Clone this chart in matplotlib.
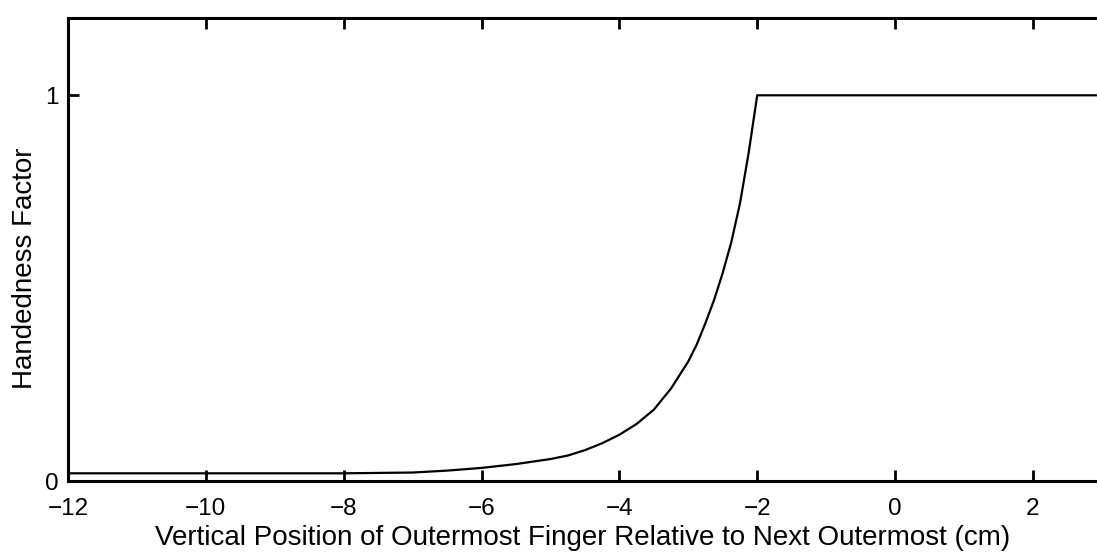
import numpy as np
import matplotlib
matplotlib.use("Agg")
import matplotlib.pyplot as plt

plt.rcParams["font.family"] = ["Liberation Sans", "DejaVu Sans"]

# Handedness factor vs. vertical offset of the outermost finger (cm)
offset_cm = [-12, -10, -8, -7, -6.5, -6, -5.5, -5, -4.75, -4.5, -4.25, -4,
             -3.75, -3.5, -3.25, -3, -2.875, -2.75, -2.625, -2.5, -2.375,
             -2.25, -2.125, -2.0625, -2, 3]
handedness = [0.02, 0.02, 0.02, 0.022, 0.027, 0.034, 0.044, 0.057, 0.066, 0.08,
              0.098, 0.12, 0.148, 0.185, 0.24, 0.31, 0.355, 0.41, 0.47, 0.54,
              0.62, 0.72, 0.85, 0.925, 1.0, 1.0]

x_ticks = [-12, -10, -8, -6, -4, -2, 0, 2]
y_ticks = [0, 1]

fig = plt.figure(figsize=(10.97, 5.57), dpi=100)
ax = fig.add_axes([0.062, 0.1364, 0.938, 0.831])

ax.plot(offset_cm, handedness, color="black", lw=1.6)

ax.set_xlim(-12, 2.93)
ax.set_ylim(0, 1.2)
ax.set_xticks(x_ticks)
ax.set_xticklabels([f"\u2212{-v}" if v < 0 else str(v) for v in x_ticks])
ax.set_yticks(y_ticks)

for side in ["left", "bottom", "top"]:
    ax.spines[side].set_linewidth(2.2)
ax.spines["right"].set_visible(False)

ax.tick_params(axis="x", direction="in", length=8, width=2, top=True,
               labelsize=17.5, pad=12)
ax.tick_params(axis="y", direction="in", length=8, width=2, right=False,
               labelsize=17.5, pad=7)

ax.set_xlabel("Vertical Position of Outermost Finger Relative to Next Outermost (cm)",
              fontsize=20, labelpad=4)
ax.set_ylabel("Handedness Factor", fontsize=20)
ax.yaxis.set_label_coords(-0.029, 0.46)

fig.savefig("out.png", dpi=100)
